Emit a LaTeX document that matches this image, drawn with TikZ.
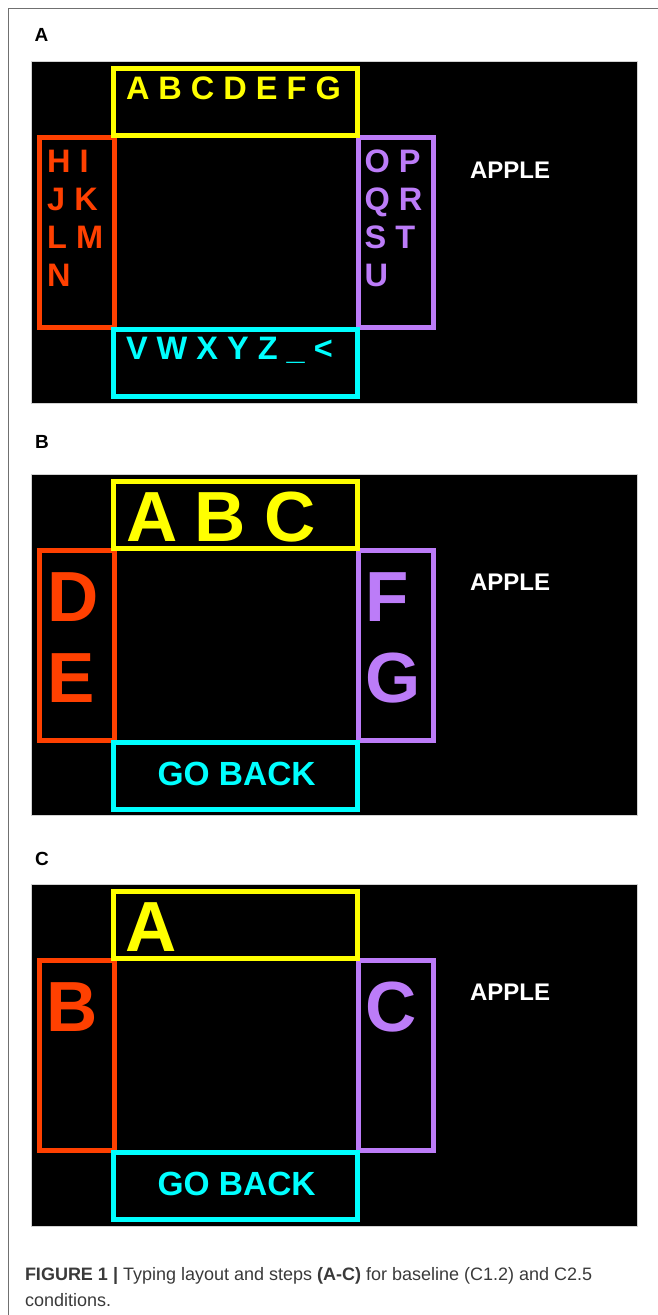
\documentclass[tikz,border=0pt]{standalone}
\usepackage{fontspec}
\setmainfont{Liberation Sans}
\definecolor{kyel}{HTML}{FFFF00}
\definecolor{kred}{HTML}{FF4000}
\definecolor{kpur}{HTML}{BC7CF8}
\definecolor{kcya}{HTML}{00FFFF}
\definecolor{capgray}{HTML}{3A3A3A}
\definecolor{framegray}{HTML}{707070}
\begin{document}
\begin{tikzpicture}[x=1pt,y=-1pt,
  screen/.style={fill=black, draw=gray!35, line width=0.8pt},
  kbox/.style={line width=5pt},
  txt/.style={anchor=base west, inner sep=0pt, outer sep=0pt},
  small/.style={txt, font=\bfseries\fontsize{32.5}{39}\selectfont},
  big/.style={txt, font=\bfseries\fontsize{71}{80}\selectfont},
  goback/.style={txt, kcya, font=\bfseries\fontsize{33.5}{40}\selectfont},
  apple/.style={txt, white, font=\bfseries\fontsize{24}{28}\selectfont},
  panel/.style={txt, black, font=\bfseries\fontsize{19}{22}\selectfont},
  captext/.style={txt, capgray, font=\fontsize{18}{22}\selectfont}]
\useasboundingbox (0,0) rectangle (657,1315);
% frame
\draw[framegray, line width=1pt] (8.3,1316) -- (8.3,8.5) -- (658,8.5);

% ---------- Panel A ----------
\node[panel] (labA) at (34.6,41.7) {A};
\draw[screen] (31,61.7) rectangle (637.3,403.3);
\draw[kbox,kred] (39,137.5) rectangle (114,327.5);
\draw[kbox,kpur] (358.5,137.5) rectangle (433.5,327.5);
\draw[kbox,kcya] (113.5,329.5) rectangle (357.5,396.5);
\draw[kbox,kyel] (113.5,68.5) rectangle (357.5,135.8);
\node[small,kyel] (aTop) at (126,99.3) {A B C D E F G};
\node[small,kred] (aL1) at (47.2,172.7) {H I};
\node[small,kred] (aL2) at (47.2,210.5) {J K};
\node[small,kred] (aL3) at (47.2,248.3) {L M};
\node[small,kred] (aL4) at (47.2,286.1) {N};
\node[small,kpur] (aR1) at (364.7,172.7) {O P};
\node[small,kpur] (aR2) at (364.7,210.5) {Q R};
\node[small,kpur] (aR3) at (364.7,248.3) {S T};
\node[small,kpur] (aR4) at (364.7,286.1) {U};
\node[small,kcya] (aBot) at (126,359.3) {V W X Y Z \_ <};
\node[apple] (aApple) at (470,178.3) {APPLE};

% ---------- Panel B ----------
\node[panel] (labB) at (35.2,448.3) {B};
\draw[screen] (31,474.3) rectangle (637.3,815.7);
\draw[kbox,kred] (39,550) rectangle (114,740);
\draw[kbox,kpur] (358.5,550) rectangle (433.5,740);
\draw[kbox,kcya] (113.5,742) rectangle (357.5,809);
\draw[kbox,kyel] (113.5,481) rectangle (357.5,548.3);
\node[big,kyel] (bA) at (126,541.7) {A};
\node[big,kyel] (bB) at (194.8,541.7) {B};
\node[big,kyel] (bC) at (264.9,541.7) {C};
\node[big,kred] (bD) at (47.1,621.7) {D};
\node[big,kred] (bE) at (47.1,702.7) {E};
\node[big,kpur] (bF) at (365.8,621.7) {F};
\node[big,kpur] (bG) at (365.9,702.2) {G};
\node[goback] (bBack) at (157.5,785) {GO BACK};
\node[apple] (bApple) at (470,590.7) {APPLE};

% ---------- Panel C ----------
\node[panel] (labC) at (35.2,865) {C};
\draw[screen] (31,884.3) rectangle (637.3,1226);
\draw[kbox,kred] (39,960) rectangle (114,1150);
\draw[kbox,kpur] (358.5,960) rectangle (433.5,1150);
\draw[kbox,kcya] (113.5,1152) rectangle (357.5,1219);
\draw[kbox,kyel] (113.5,891) rectangle (357.5,958.3);
\node[big,kyel] (cA) at (125,951.7) {A};
\node[big,kred] (cB) at (46.8,1031.7) {B};
\node[big,kpur] (cC) at (365.9,1031.2) {C};
\node[goback] (cBack) at (157.5,1195) {GO BACK};
\node[apple] (cApple) at (470,1000.7) {APPLE};

% ---------- Caption ----------
\node[captext] (cap1) at (25,1280) {\textbf{FIGURE 1 |} Typing layout and steps \textbf{(A-C)} for baseline (C1.2) and C2.5};
\node[captext] (cap2) at (25,1306.7) {conditions.};
\end{tikzpicture}
\end{document}
